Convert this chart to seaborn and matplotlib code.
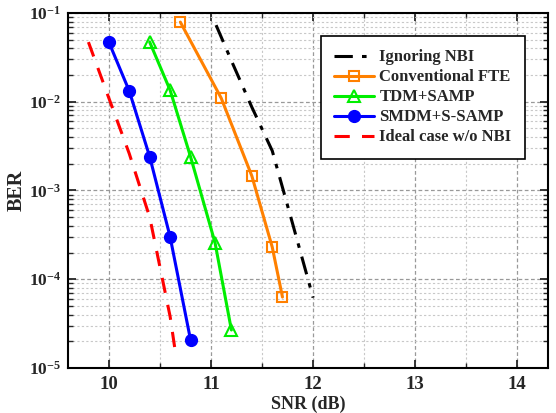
import numpy as np
import pandas as pd
import matplotlib
matplotlib.use("Agg")
import matplotlib.pyplot as plt
import seaborn as sns
from matplotlib.ticker import MultipleLocator, LogLocator, NullFormatter

# ---- data ----
series_names = ["Ignoring NBI", "Conventional FTE", "TDM+SAMP", "SMDM+S-SAMP", "Ideal case w/o NBI"]

snr_ignore = [11.05, 11.2, 11.4, 11.6, 11.8, 12.0]
ber_ignore = [0.073, 0.029, 0.0087, 0.0028, 4.2e-4, 6.2e-5]

snr_fte = [10.7, 11.1, 11.4, 11.6, 11.7]
ber_fte = [0.079, 0.011, 1.46e-3, 2.3e-4, 6.3e-5]

snr_tdm = [10.4, 10.6, 10.8, 11.04, 11.2]
ber_tdm = [0.047, 0.0135, 0.0024, 2.57e-4, 2.68e-5]

snr_smdm = [10.0, 10.2, 10.4, 10.6, 10.8]
ber_smdm = [0.047, 0.0132, 0.0024, 3.0e-4, 2.07e-5]

snr_ideal = [9.8, 10.0, 10.2, 10.4, 10.6, 10.65]
ber_ideal = [0.047, 0.011, 0.0026, 5.0e-4, 3.8e-5, 1.55e-5]

xticks = [10, 11, 12, 13, 14]
yticks = [1e-5, 1e-4, 1e-3, 1e-2, 1e-1]
ytick_labels = [r"$\mathbf{10^{-5}}$", r"$\mathbf{10^{-4}}$", r"$\mathbf{10^{-3}}$",
                r"$\mathbf{10^{-2}}$", r"$\mathbf{10^{-1}}$"]

# ---- styling ----
sns.set_theme(style="white")
plt.rcParams["font.family"] = ["Liberation Serif", "DejaVu Serif"]
plt.rcParams["font.weight"] = "bold"
plt.rcParams["mathtext.fontset"] = "custom"
plt.rcParams["mathtext.rm"] = "Liberation Serif:bold"
plt.rcParams["mathtext.bf"] = "Liberation Serif:bold"
plt.rcParams["mathtext.it"] = "Liberation Serif:bold:italic"

fig = plt.figure(figsize=(5.56, 4.13), dpi=100)
ax = fig.add_axes([0.1223, 0.109, 0.8633, 0.8595])

xs = [snr_ignore, snr_fte, snr_tdm, snr_smdm, snr_ideal]
ys = [ber_ignore, ber_fte, ber_tdm, ber_smdm, ber_ideal]
frames = []
for n, x, y in zip(series_names, xs, ys):
    frames.append(pd.DataFrame({"SNR": x, "BER": y, "method": n}))
df = pd.concat(frames, ignore_index=True)

styles = {
    "Ignoring NBI": dict(color="black", ls=(0, (6, 3, 1.5, 3)), marker=None),
    "Conventional FTE": dict(color="#FF8000", ls="-", marker="s", ms=7, mfc="none", mew=1.5),
    "TDM+SAMP": dict(color="#00EE00", ls="-", marker="^", ms=8.5, mfc="none", mew=1.5),
    "SMDM+S-SAMP": dict(color="#0000FF", ls="-", marker="o", ms=8.5, mfc="#0000FF", mew=1.0),
    "Ideal case w/o NBI": dict(color="#FF0000", ls=(0, (5, 4)), marker=None),
}

for n in series_names:
    st = styles[n]
    kw = dict(linewidth=2.2, linestyle=st["ls"], color=st["color"])
    if st["marker"]:
        kw.update(marker=st["marker"], markersize=st["ms"], markerfacecolor=st["mfc"],
                  markeredgecolor=st["color"], markeredgewidth=st["mew"])
    sns.lineplot(data=df[df["method"] == n], x="SNR", y="BER", ax=ax, label=n,
                 sort=False, estimator=None, **kw)

ax.set_yscale("log")
ax.set_xlim(9.6, 14.3)
ax.set_ylim(1e-5, 1e-1)
ax.set_xticks(xticks)
ax.set_xticklabels([str(t) for t in xticks], fontsize=13.5, fontweight="bold")
ax.xaxis.set_minor_locator(MultipleLocator(0.5))
ax.set_yticks(yticks)
ax.set_yticklabels(ytick_labels, fontsize=12.5)
ax.yaxis.set_minor_locator(LogLocator(base=10, subs=np.arange(2, 10), numticks=20))
ax.yaxis.set_minor_formatter(NullFormatter())

ax.grid(True, which="major", color="#999999", linestyle=(0, (3, 2)), linewidth=0.9)
ax.grid(True, which="minor", color="#C8C8C8", linestyle=(0, (2, 2)), linewidth=0.8)
ax.set_axisbelow(True)

ax.tick_params(which="both", direction="in", top=True, right=True, bottom=True, left=True)
ax.tick_params(which="major", length=6, width=1.3, pad=6)
ax.tick_params(axis="y", which="major", pad=5)
ax.tick_params(which="minor", length=3.5, width=1.0)
for s in ax.spines.values():
    s.set_linewidth(1.5)
    s.set_color("black")

ax.set_xlabel("SNR (dB)", fontsize=13, fontweight="bold", labelpad=2)
ax.set_ylabel("BER", fontsize=14.5, fontweight="bold")
ax.yaxis.set_label_coords(-0.085, 0.5)

leg = ax.legend(loc="upper right", bbox_to_anchor=(0.952, 0.935), borderaxespad=0,
                fontsize=12, frameon=True, fancybox=False, edgecolor="black", framealpha=1,
                handlelength=2.4, handletextpad=0.3, borderpad=0.8, labelspacing=0.24)
leg.get_frame().set_linewidth(1.2)
for t in leg.get_texts():
    t.set_fontweight("bold")

fig.savefig("out.png", dpi=100)
